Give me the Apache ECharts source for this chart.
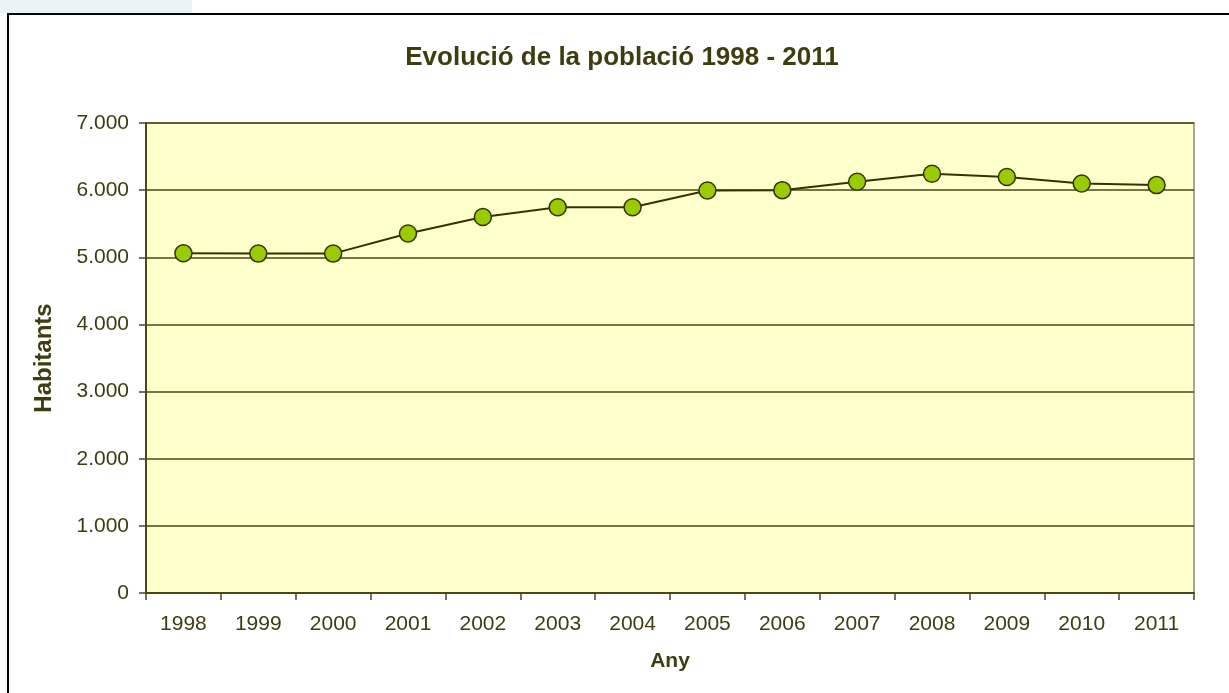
<!DOCTYPE html>
<html>
<head>
<meta charset="utf-8">
<script src="https://cdn.jsdelivr.net/npm/echarts@6/dist/echarts.min.js"></script>
<style>
  html, body { margin: 0; padding: 0; background: #fff; }
  #chart { width: 1229px; height: 693px; }
</style>
</head>
<body>
<div id="chart"></div>
<script>
const years = ['1998', '1999', '2000', '2001', '2002', '2003', '2004', '2005', '2006', '2007', '2008', '2009', '2010', '2011'];
const habitants = [5060, 5055, 5055, 5355, 5600, 5745, 5745, 5995, 6000, 6125, 6245, 6195, 6100, 6075];

const textCol = '#3f3d10';
const lineCol = '#4a4718';
const font = 'Liberation Sans, Arial, sans-serif';

const chart = echarts.init(document.getElementById('chart'));
chart.setOption({
  animation: false,
  backgroundColor: '#fff',
  graphic: [
    { type: 'rect', shape: { x: 0, y: 0, width: 192, height: 13 }, style: { fill: '#eaf3f7' } },
    { type: 'rect', shape: { x: 8, y: 14, width: 1240, height: 700 }, style: { fill: 'none', stroke: '#000', lineWidth: 2 } }
  ],
  title: {
    text: 'Evolució de la població 1998 - 2011',
    left: 617, top: 40, textAlign: 'center',
    textStyle: { fontFamily: font, fontSize: 26, fontWeight: 'bold', color: textCol }
  },
  grid: {
    left: 146, right: 35, top: 123, bottom: 100,
    show: true, backgroundColor: '#ffffcc', borderColor: '#8c8a80', borderWidth: 1.5
  },
  xAxis: {
    type: 'category',
    data: years,
    boundaryGap: true,
    name: 'Any',
    nameLocation: 'middle',
    nameGap: 58,
    nameTextStyle: { fontFamily: font, fontSize: 21, fontWeight: 'bold', color: textCol },
    axisLine: { lineStyle: { color: lineCol, width: 2 } },
    axisTick: { show: true, length: 7, alignWithLabel: false, lineStyle: { color: lineCol, width: 1.5 } },
    axisLabel: { fontFamily: font, fontSize: 21, color: textCol, margin: 21 },
    splitLine: { show: false }
  },
  yAxis: {
    type: 'value',
    min: 0, max: 7000, interval: 1000,
    name: 'Habitants',
    nameLocation: 'middle',
    nameGap: 90,
    nameTextStyle: { fontFamily: font, fontSize: 24, fontWeight: 'bold', color: textCol },
    axisLine: { show: true, lineStyle: { color: lineCol, width: 2 } },
    axisTick: { show: true, length: 7, lineStyle: { color: lineCol, width: 1.5 } },
    axisLabel: {
      fontFamily: font, fontSize: 21, color: textCol, margin: 17,
      formatter: v => v === 0 ? '0' : (v / 1000) + '.000'
    },
    splitLine: { show: true, lineStyle: { color: lineCol, width: 1.5 } }
  },
  series: [{
    type: 'line',
    data: habitants,
    symbol: 'circle',
    symbolSize: 17,
    lineStyle: { color: '#333300', width: 2 },
    itemStyle: { color: '#99cc00', borderColor: '#333300', borderWidth: 1.5 }
  }]
});
</script>
</body>
</html>
